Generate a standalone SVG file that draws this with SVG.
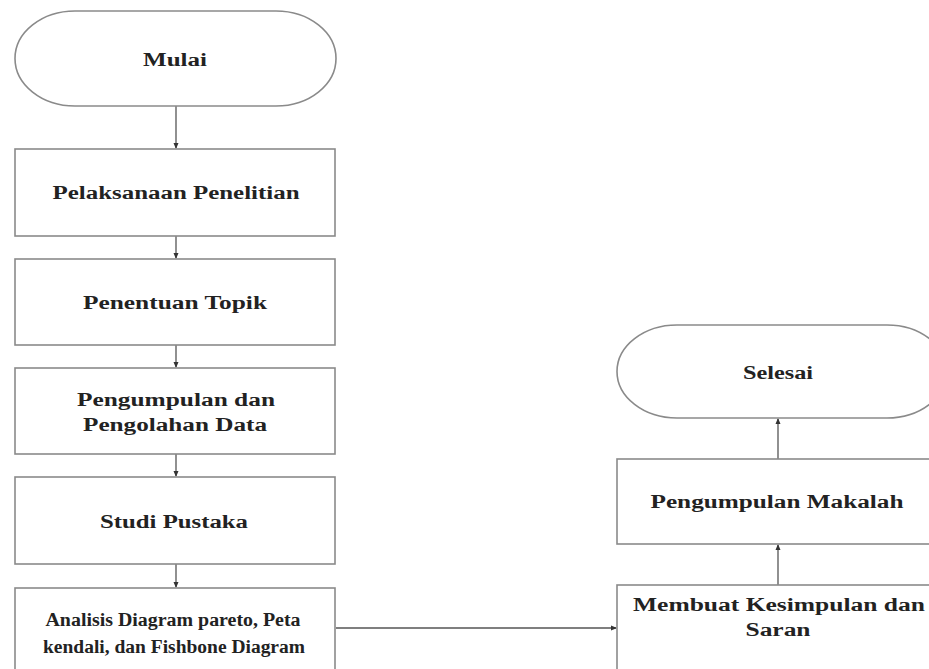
<svg xmlns="http://www.w3.org/2000/svg" width="929" height="669" viewBox="0 0 929 669">
<style>
.box{fill:#fff;stroke:#8a8a8a;stroke-width:1.6}
.t{font-family:"Liberation Serif","Times New Roman",serif;font-weight:bold;font-size:18px;fill:#222;text-anchor:middle}
.c{stroke:#555;stroke-width:1.3;fill:none;marker-end:url(#ah)}
</style>
<defs>
<marker id="ah" markerWidth="6" markerHeight="6" refX="5" refY="3" orient="auto" markerUnits="userSpaceOnUse">
<path d="M0,0.5 L6,3 L0,5.5 Z" fill="#333"/>
</marker>
</defs>
<rect width="929" height="669" fill="#fff"/>
<g id="connectors">
<line class="c" x1="176" y1="106" x2="176" y2="148"/>
<line class="c" x1="176" y1="236" x2="176" y2="258"/>
<line class="c" x1="176" y1="345" x2="176" y2="367"/>
<line class="c" x1="176" y1="454" x2="176" y2="476"/>
<line class="c" x1="176" y1="564" x2="176" y2="587"/>
<line class="c" x1="336" y1="628" x2="616" y2="628"/>
<line class="c" x1="778" y1="585" x2="778" y2="545"/>
<line class="c" x1="778" y1="459" x2="778" y2="419"/>
</g>
<g id="mulai">
<rect class="box" x="15" y="11" width="321" height="95" rx="60" ry="47.5"/>
<text class="t" x="175" y="66" textLength="64" lengthAdjust="spacingAndGlyphs">Mulai</text>
</g>
<g id="pelaksanaan">
<rect class="box" x="15" y="149" width="320" height="87"/>
<text class="t" x="176" y="199" textLength="247" lengthAdjust="spacingAndGlyphs">Pelaksanaan Penelitian</text>
</g>
<g id="penentuan">
<rect class="box" x="15" y="259" width="320" height="86"/>
<text class="t" x="175" y="309" textLength="184" lengthAdjust="spacingAndGlyphs">Penentuan Topik</text>
</g>
<g id="pengumpulan">
<rect class="box" x="15" y="368" width="320" height="86"/>
<text class="t" x="176" y="406" textLength="198" lengthAdjust="spacingAndGlyphs">Pengumpulan dan</text>
<text class="t" x="175" y="431" textLength="184" lengthAdjust="spacingAndGlyphs">Pengolahan Data</text>
</g>
<g id="studi">
<rect class="box" x="15" y="477" width="320" height="87"/>
<text class="t" x="174" y="528" textLength="148" lengthAdjust="spacingAndGlyphs">Studi Pustaka</text>
</g>
<g id="analisis">
<rect class="box" x="15" y="588" width="320" height="90"/>
<text class="t" x="173" y="626" textLength="255" lengthAdjust="spacingAndGlyphs">Analisis  Diagram pareto, Peta</text>
<text class="t" x="174" y="653" textLength="262" lengthAdjust="spacingAndGlyphs">kendali, dan Fishbone Diagram</text>
</g>
<g id="selesai">
<rect class="box" x="617" y="325" width="330" height="93" rx="60" ry="46.5"/>
<text class="t" x="778" y="379" textLength="70" lengthAdjust="spacingAndGlyphs">Selesai</text>
</g>
<g id="makalah">
<rect class="box" x="617" y="459" width="330" height="85"/>
<text class="t" x="777" y="508" textLength="253" lengthAdjust="spacingAndGlyphs">Pengumpulan Makalah</text>
</g>
<g id="membuat">
<rect class="box" x="617" y="585" width="330" height="93"/>
<text class="t" x="779" y="611" textLength="292" lengthAdjust="spacingAndGlyphs">Membuat Kesimpulan dan</text>
<text class="t" x="778" y="636" textLength="65" lengthAdjust="spacingAndGlyphs">Saran</text>
</g>
</svg>
